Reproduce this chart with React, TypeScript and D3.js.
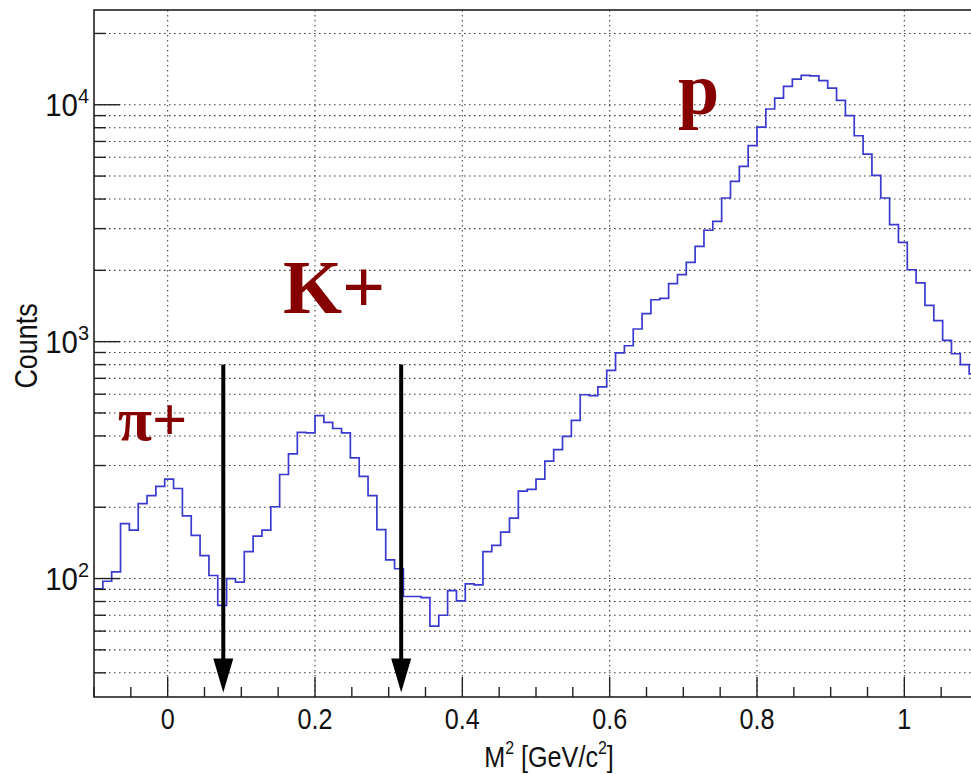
import React from "react";
import * as d3 from "d3";

// Histogram of M^2, 100 bins from -0.1 to 1.1
const binLow = -0.1;
const binWidth = 0.012;
const counts = [
  90.5, 97.4, 106.7, 170.6, 160, 207, 224, 245, 263, 240,
  184, 152, 125, 103, 77, 100, 96.5, 130, 151, 160,
  201, 275, 336, 414, 412, 487, 456, 430, 412, 323,
  270, 224, 161, 120, 110, 84, 84, 83, 63, 70,
  89, 80.5, 95, 94, 130, 138, 157, 180, 234, 238,
  263, 313, 350, 398, 465, 597, 592, 644, 757, 896,
  961, 1131, 1313, 1503, 1524, 1757, 1918, 2163, 2525, 2953,
  3221, 4040, 4746, 5492, 6716, 8053, 9596, 10675, 11950, 12840,
  13300, 13250, 12640, 11750, 10430, 8990, 7400, 6190, 5030, 4040,
  3120, 2626, 2012, 1770, 1423, 1227, 1013, 889, 800, 731,
];

const xTickValues = [0, 0.2, 0.4, 0.6, 0.8, 1];
const xTickLabels = ["0", "0.2", "0.4", "0.6", "0.8", "1"];
const yMajorValues = [100, 1000, 10000];
const yMajorExp = ["2", "3", "4"];

// cut arrows (M^2 positions) and their vertical extent in counts
const cutValues = [0.0755, 0.317];
const arrowFrom = 800;
const arrowTo = 33;

// particle labels anchored in data coordinates
const labelTexts = ["π+", "K+", "p"];
const labelX = [-0.0675, 0.1565, 0.6927];
const labelY = [386, 1324, 9160];

export default function App() {
  const W = 971;
  const H = 774;
  const left = 94;
  const right = 978;
  const top = 10;
  const bottom = 697;

  const x = d3.scaleLinear().domain([-0.1, 1.1]).range([left, right]);
  const y = d3.scaleLog().domain([Math.pow(10, 1.5), Math.pow(10, 4.4)]).range([bottom, top]);

  // step path
  const pts: [number, number][] = [];
  counts.forEach((c, i) => {
    const x0 = binLow + i * binWidth;
    pts.push([x0, c]);
    pts.push([x0 + binWidth, c]);
  });
  const line = d3
    .line<[number, number]>()
    .x((d) => x(d[0]))
    .y((d) => y(d[1]));

  // y ticks
  const yMinor: number[] = [];
  for (let e = 1; e <= 4; e++) {
    for (let m = 2; m <= 9; m++) {
      const v = m * Math.pow(10, e);
      if (v >= Math.pow(10, 1.5) && v <= Math.pow(10, 4.4)) yMinor.push(v);
    }
  }
  const xMinor: number[] = [];
  for (let v = -0.1; v <= 1.1001; v += 0.05) {
    const r = Math.round(v * 100) / 100;
    if (Math.abs(r / 0.2 - Math.round(r / 0.2)) > 1e-6) xMinor.push(r);
  }

  const gridStyle = {
    stroke: "#444",
    strokeWidth: 1.1,
    strokeDasharray: "1.6 3.4",
  };
  const sans = "'Liberation Sans', Arial, Helvetica, sans-serif";
  const serif = "'Liberation Serif', 'Times New Roman', serif";
  const labelSizes = [62, 76, 74];
  const fs = 30;
  const sx = 0.84;

  return (
    <svg
      width={W}
      height={H}
      style={{ position: "fixed", left: 0, top: 0, background: "#fff" }}
    >
      <rect x={0} y={0} width={W} height={H} fill="#fff" />
      {/* grid */}
      {[...yMajorValues, ...yMinor].map((v, i) => (
        <line key={"gy" + i} x1={left} x2={right} y1={y(v)} y2={y(v)} {...gridStyle} />
      ))}
      {xTickValues.map((v, i) => (
        <line key={"gx" + i} x1={x(v)} x2={x(v)} y1={top} y2={bottom} {...gridStyle} />
      ))}

      {/* histogram */}
      <path d={line(pts) || ""} fill="none" stroke="#3a3ad0" strokeWidth={1.7} />

      {/* frame */}
      <rect x={left} y={top} width={right - left} height={bottom - top} fill="none" stroke="#222" strokeWidth={1.6} />

      {/* y ticks */}
      {yMajorValues.map((v, i) => (
        <line key={"ty" + i} x1={left} x2={left + 26} y1={y(v)} y2={y(v)} stroke="#222" strokeWidth={1.4} />
      ))}
      {yMinor.map((v, i) => (
        <line key={"tym" + i} x1={left} x2={left + 12} y1={y(v)} y2={y(v)} stroke="#222" strokeWidth={1.4} />
      ))}
      {/* x ticks */}
      {xTickValues.map((v, i) => (
        <line key={"tx" + i} x1={x(v)} x2={x(v)} y1={bottom} y2={bottom - 20} stroke="#222" strokeWidth={1.4} />
      ))}
      {xMinor.map((v, i) => (
        <line key={"txm" + i} x1={x(v)} x2={x(v)} y1={bottom} y2={bottom - 10} stroke="#222" strokeWidth={1.4} />
      ))}

      {/* x tick labels */}
      {xTickValues.map((v, i) => (
        <text
          key={"lx" + i}
          transform={`translate(${x(v)},729) scale(${sx},1)`}
          textAnchor="middle"
          fontFamily={sans}
          fontSize={fs}
          fill="#111"
        >
          {xTickLabels[i]}
        </text>
      ))}
      {/* y tick labels */}
      {yMajorValues.map((v, i) => (
        <text
          key={"ly" + i}
          transform={`translate(89,${y(v) + 11}) scale(0.95,1)`}
          textAnchor="end"
          fontFamily={sans}
          fontSize={31}
          fill="#111"
        >
          10
          <tspan fontSize={21} dy={-13}>
            {yMajorExp[i]}
          </tspan>
        </text>
      ))}

      {/* axis titles */}
      <text
        transform={`translate(549,767) scale(${sx},1)`}
        textAnchor="middle"
        fontFamily={sans}
        fontSize={fs}
        fill="#111"
      >
        M<tspan fontSize={19} dy={-13}>2</tspan>
        <tspan dy={13}> [GeV/c</tspan>
        <tspan fontSize={19} dy={-13}>2</tspan>
        <tspan dy={13}>]</tspan>
      </text>
      <text
        transform={`translate(37,346) rotate(-90) scale(${sx},1)`}
        textAnchor="middle"
        fontFamily={sans}
        fontSize={32}
        fill="#111"
      >
        Counts
      </text>

      {/* cut arrows */}
      {cutValues.map((c, i) => {
        const cx = x(c);
        const y0 = y(arrowFrom);
        const y1 = y(arrowTo);
        return (
          <g key={"a" + i}>
            <line x1={cx} x2={cx} y1={y0} y2={y1 - 30} stroke="#000" strokeWidth={4} />
            <path d={`M${cx - 10},${y1 - 34} L${cx + 10},${y1 - 34} L${cx},${y1} Z`} fill="#000" />
          </g>
        );
      })}

      {/* particle labels */}
      {labelTexts.map((t, i) => (
        <text
          key={"pl" + i}
          x={x(labelX[i])}
          y={y(labelY[i])}
          fontFamily={serif}
          fontWeight="bold"
          fontSize={labelSizes[i]}
          fill="#870000"
        >
          {t}
        </text>
      ))}
    </svg>
  );
}
